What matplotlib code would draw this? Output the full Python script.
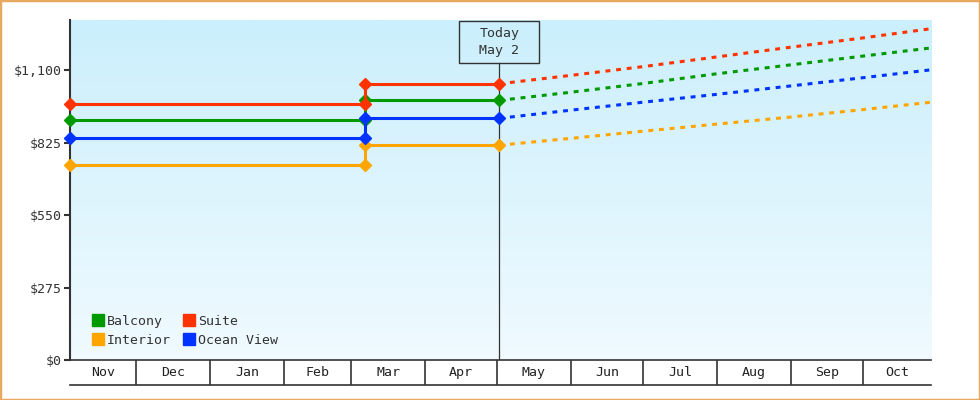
import numpy as np
import pandas as pd
import matplotlib
matplotlib.use('Agg')
import matplotlib.pyplot as plt
import matplotlib.dates as mdates
from matplotlib.patches import Rectangle
from matplotlib.colors import LinearSegmentedColormap
import matplotlib.transforms as mtrans

# fare history (before / after the March price change) and projection
series = ['Balcony', 'Interior', 'Suite', 'Ocean View']
colors = ['#009a00', '#ffa500', '#ff3300', '#0033ff']
price_before = [912, 740, 972, 841]
price_after = [985, 815, 1048, 917]

start = pd.Timestamp('2022-11-03 12:00')
change_day = pd.Timestamp('2023-03-07')
today = pd.Timestamp('2023-05-02')
end = pd.Timestamp('2023-10-29 12:00')

proj_dates = pd.to_datetime(['2023-05-02 00:00', '2023-06-01 00:00', '2023-07-01 00:00',
                             '2023-08-01 00:00', '2023-09-01 00:00', '2023-10-01 00:00',
                             '2023-10-29 12:00'])
proj = {
    'Balcony':    [985, 1016, 1049, 1086, 1120, 1153, 1184],
    'Interior':   [815, 841, 868, 895, 922, 950, 978],
    'Suite':      [1048, 1080, 1113, 1150, 1187, 1222, 1257],
    'Ocean View': [917, 948, 978, 1008, 1040, 1071, 1101],
}

yticks = [0, 275, 550, 825, 1100]
ytick_labels = ['$0', '$275', '$550', '$825', '$1,100']
months = ['Nov', 'Dec', 'Jan', 'Feb', 'Mar', 'Apr', 'May', 'Jun', 'Jul', 'Aug', 'Sep', 'Oct']
month_starts = pd.date_range('2022-11-01', periods=13, freq='MS')

plt.rcParams['font.family'] = ['DejaVu Sans Mono']
ink = '#333333'

fig = plt.figure(figsize=(9.8, 4), dpi=100)
ax = fig.add_axes([70/980, 40/400, 861/980, 340/400])
axm = fig.add_axes([70/980, 15/400, 861/980, 25/400])

xs, xe = mdates.date2num(start), mdates.date2num(end)

# background gradient
cmap = LinearSegmentedColormap.from_list('bg', ['#f0faff', '#cbeffc'])
grad = np.linspace(0, 1, 256).reshape(-1, 1)
ax.imshow(grad, cmap=cmap, origin='lower', extent=[0, 1, 0, 1],
          transform=ax.transAxes, aspect='auto', zorder=0)

for name, c, b, a in zip(series, colors, price_before, price_after):
    xd = [start, change_day, change_day, today]
    yd = [b, b, a, a]
    ax.plot(xd, yd, color=c, lw=2.2, marker='D', ms=5.8, zorder=3, clip_on=False)
    ax.plot(proj_dates, proj[name], color=c, lw=2.2, dashes=(1.6, 1.9), zorder=3)

ax.set_xlim(xs, xe)
ax.set_ylim(0, 1290)
ax.set_yticks(yticks)
ax.set_yticklabels(ytick_labels)
ax.set_xticks([])
for s in ['top', 'right']:
    ax.spines[s].set_visible(False)
ax.spines['left'].set_color(ink)
ax.spines['left'].set_linewidth(1.5)
ax.spines['bottom'].set_color(ink)
ax.spines['bottom'].set_linewidth(1.2)
ax.tick_params(axis='y', direction='out', length=4, width=1.5, color=ink,
               labelsize=9.5, labelcolor=ink, pad=2)

# today marker
tx = mdates.date2num(today)
blend = mtrans.blended_transform_factory(ax.transData, ax.transAxes)
ax.plot([tx, tx], [0, 0.8735], color=ink, lw=0.9, transform=blend, zorder=2)
ax.add_patch(Rectangle((tx - 16.7, 0.8735), 33.4, 0.1235, transform=blend,
                       fill=False, ec=ink, lw=1.0, zorder=4, clip_on=False))
ax.text(tx, 0.935, 'Today\nMay 2', transform=blend, ha='center', va='center',
        fontsize=9.5, color=ink, linespacing=1.35, zorder=5)

# legend
handles = [plt.Line2D([], [], ls='none', marker='s', ms=8.4, color=c) for c in colors]
ax.legend(handles, series, ncol=2, loc='lower left', bbox_to_anchor=(0.026, 0.039),
          frameon=False, fontsize=9.5, handlelength=0.9, handletextpad=0.2,
          columnspacing=0.95, labelspacing=0.45, borderaxespad=0, borderpad=0,
          labelcolor=ink)

# month strip
axm.set_xlim(xs, xe)
axm.set_ylim(0, 1)
axm.axis('off')
axm.plot([xs, xe], [0, 0], color=ink, lw=1.2, clip_on=False)
for i, m in enumerate(months):
    a = max(mdates.date2num(month_starts[i]), xs)
    b = min(mdates.date2num(month_starts[i + 1]), xe)
    if i > 0:
        axm.plot([a, a], [0, 1], color=ink, lw=1.2)
    axm.text((a + b) / 2, 0.5, m, ha='center', va='center', fontsize=9.5, color='#222222')

fig.patches.append(Rectangle((0, 0), 1, 1, transform=fig.transFigure, fill=False,
                             ec='#e8a860', lw=2.5))

fig.savefig('out.png', dpi=100)
